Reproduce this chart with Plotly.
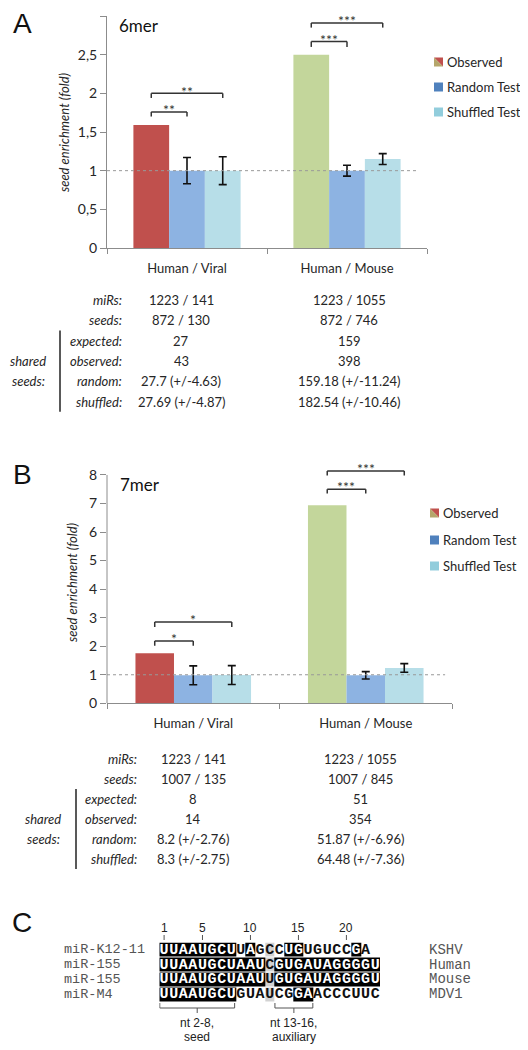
import plotly.graph_objects as go

# The page body keeps its default 8px margin, so the figure is 8px smaller
# and all pixel positions below are measured in window coordinates.
OFF = 8
W, H = 528 - OFF, 1050 - OFF


def px(x):
    return (x - OFF) / W


def py(y):
    return 1 - (y - OFF) / H


# ---------------- data ----------------
categories = ["Human / Viral", "Human / Mouse"]
series_names = ["Observed", "Random Test", "Shuffled Test"]

# Panel A (6mer)
a_observed = [1.59, 2.50]
a_random = [1.00, 1.00]
a_random_err = [0.17, 0.07]
a_shuffled = [1.00, 1.15]
a_shuffled_err = [0.18, 0.07]
a_yticks = [0, 0.5, 1, 1.5, 2, 2.5, 3]
a_yticktext = ["0", "0,5", "1", "1,5", "2", "2,5", "3"]
# significance: (group, target series, bracket top, bracket foot, label)
a_sig = [(0, 1, 1.76, 1.70, "**"), (0, 2, 2.00, 1.94, "**"),
         (1, 1, 2.67, 2.60, "***"), (1, 2, 2.91, 2.85, "***")]

# Panel B (7mer)
b_observed = [1.75, 6.94]
b_random = [0.98, 0.98]
b_random_err = [0.33, 0.13]
b_shuffled = [0.99, 1.24]
b_shuffled_err = [0.33, 0.15]
b_yticks = [0, 1, 2, 3, 4, 5, 6, 7, 8]
b_yticktext = ["0", "1", "2", "3", "4", "5", "6", "7", "8"]
b_sig = [(0, 1, 2.18, 2.02, "*"), (0, 2, 2.85, 2.67, "*"),
         (1, 1, 7.50, 7.35, "***"), (1, 2, 8.14, 7.98, "***")]

# Tables
row_labels = ["miRs:", "seeds:", "expected:", "observed:", "random:", "shuffled:"]
a_viral_table = ["1223 / 141", "872 / 130", "27", "43", "27.7 (+/-4.63)", "27.69 (+/-4.87)"]
a_mouse_table = ["1223 / 1055", "872 / 746", "159", "398", "159.18 (+/-11.24)", "182.54 (+/-10.46)"]
b_viral_table = ["1223 / 141", "1007 / 135", "8", "14", "8.2 (+/-2.76)", "8.3 (+/-2.75)"]
b_mouse_table = ["1223 / 1055", "1007 / 845", "51", "354", "51.87 (+/-6.96)", "64.48 (+/-7.36)"]

# Panel C alignment
mir_names = ["miR-K12-11", "miR-155", "miR-155", "miR-M4"]
species = ["KSHV", "Human", "Mouse", "MDV1"]
sequences = ["UUAAUGCUUAGCCUGUGUCCGA",
             "UUAAUGCUAAUCGUGAUAGGGGU",
             "UUAAUGCUAAUUGUGAUAGGGGU",
             "UUAAUGCUGUAUCGGAACCCUUC"]
# 1 = identical (black), 2 = position 12 (grey), 0 = different
shading = ["1111111101020110000010",
           "11111111111211111111111",
           "11111111111211111111111",
           "11111111000200110000000"]
position_ticks = [1, 5, 10, 15, 20]

# ---------------- styling ----------------
RED = "#C0504D"
GREEN = "#C3D69B"
BLUE = "#8DB3E2"
LBLUE = "#B7DEE8"
AXIS = "#8c8c8c"
TXT = "#262626"
FONT = "Lato"
BARGAP = 0.33
BW = (1 - BARGAP) / 3

fig = go.Figure()
shapes = []
annotations = []


def note(x, y, text, xref="paper", yref="paper", xanchor="center", yanchor="middle", **kw):
    annotations.append(dict(x=x, y=y, xref=xref, yref=yref, text=text, showarrow=False,
                            xanchor=xanchor, yanchor=yanchor, **kw))


def panel(obs, rnd, rnd_err, shf, shf_err, xa, ya):
    fig.add_trace(go.Bar(x=categories, y=obs, name=series_names[0], marker_color=[RED, GREEN],
                         marker_line_width=0, xaxis=xa, yaxis=ya, showlegend=False))
    fig.add_trace(go.Bar(x=categories, y=rnd, name=series_names[1], marker_color=BLUE,
                         marker_line_width=0, xaxis=xa, yaxis=ya, showlegend=False,
                         error_y=dict(type="data", array=rnd_err, color="#111", thickness=1.6, width=4)))
    fig.add_trace(go.Bar(x=categories, y=shf, name=series_names[2], marker_color=LBLUE,
                         marker_line_width=0, xaxis=xa, yaxis=ya, showlegend=False,
                         error_y=dict(type="data", array=shf_err, color="#111", thickness=1.6, width=4)))


panel(a_observed, a_random, a_random_err, a_shuffled, a_shuffled_err, "x", "y")
panel(b_observed, b_random, b_random_err, b_shuffled, b_shuffled_err, "x2", "y2")


def sig_brackets(sig, xr, yr, star_off):
    for g, k, top, foot, lab in sig:
        x0 = g - BW
        x1 = g + (k - 1) * BW
        for (ax0, ay0, ax1, ay1) in [(x0, foot, x0, top), (x0, top, x1, top), (x1, top, x1, foot)]:
            shapes.append(dict(type="line", xref=xr, yref=yr, x0=ax0, y0=ay0, x1=ax1, y1=ay1,
                               line=dict(color="#333", width=1.5)))
        note((x0 + x1) / 2, top + star_off, lab, xref=xr, yref=yr,
             font=dict(family=FONT, size=14, color="#333"))


sig_brackets(a_sig, "x", "y", 0.03)
sig_brackets(b_sig, "x2", "y2", 0.10)

# reference dotted lines at 1
shapes.append(dict(type="line", xref="x domain", yref="y", x0=0, x1=0.97, y0=1, y1=1,
                   line=dict(color="#999", width=1, dash="dot")))
shapes.append(dict(type="line", xref="x2 domain", yref="y2", x0=0, x1=0.98, y0=1, y1=1,
                   line=dict(color="#999", width=1, dash="dot")))
# y axis line of panel B (range extends above 8 for the brackets)
shapes.append(dict(type="line", xref="x2 domain", yref="y2", x0=0, x1=0, y0=0, y1=8,
                   line=dict(color=AXIS, width=1)))

# panel letters, titles, axis titles
for lab, x, y in [("A", 22, 24), ("B", 22, 474), ("C", 22, 922)]:
    note(px(x), py(y), lab, font=dict(family="Liberation Sans", size=28, color="#111"))
for lab, x, y in [("6mer", 117, 25), ("7mer", 118, 485)]:
    note(px(x), py(y), lab, xanchor="left", font=dict(family=FONT, size=17, color="#111"))
for x, y in [(64, 133), (72, 583)]:
    note(px(x), py(y), "<i>seed enrichment (fold)</i>", textangle=-90,
         font=dict(family=FONT, size=13, color=TXT))


# legends (drawn manually: observed symbol is split red / green)
def legend(x_sq, x_txt, ys):
    s = 9
    y0 = ys[0]
    shapes.append(dict(type="path", xref="paper", yref="paper",
                       path=f"M {px(x_sq)},{py(y0 - s/2)} L {px(x_sq + s)},{py(y0 - s/2)} L {px(x_sq + s)},{py(y0 + s/2)} Z",
                       fillcolor=RED, line=dict(width=0)))
    shapes.append(dict(type="path", xref="paper", yref="paper",
                       path=f"M {px(x_sq)},{py(y0 - s/2)} L {px(x_sq)},{py(y0 + s/2)} L {px(x_sq + s)},{py(y0 + s/2)} Z",
                       fillcolor="#B5A66B", line=dict(width=0)))
    for col, yy in [("#4F81BD", ys[1]), ("#92CDDC", ys[2])]:
        shapes.append(dict(type="rect", xref="paper", yref="paper", x0=px(x_sq), x1=px(x_sq + s),
                           y0=py(yy + s/2), y1=py(yy - s/2), fillcolor=col, line=dict(width=0)))
    for name, yy in zip(series_names, ys):
        note(px(x_txt), py(yy), name, xanchor="left", font=dict(family=FONT, size=13, color=TXT))


legend(434, 445, [62, 87, 112])
legend(430, 441, [513, 540, 566])


# tables
def table(vals_l, vals_r, lab_x, col_l, col_r, y0, dy, shared_x, bar_x):
    for i, lab in enumerate(row_labels):
        yy = y0 + i * dy
        note(px(lab_x), py(yy), f"<i>{lab}</i>", xanchor="right",
             font=dict(family=FONT, size=13, color=TXT))
        for v, cx in [(vals_l[i], col_l), (vals_r[i], col_r)]:
            note(px(cx), py(yy), v, font=dict(family=FONT, size=13, color=TXT))
    for t, k in [("shared", 3), ("seeds:", 4)]:
        note(px(shared_x), py(y0 + k * dy), f"<i>{t}</i>", font=dict(family=FONT, size=13, color=TXT))
    shapes.append(dict(type="line", xref="paper", yref="paper", x0=px(bar_x), x1=px(bar_x),
                       y0=py(y0 + 1.5 * dy), y1=py(y0 + 5.5 * dy), line=dict(color="#222", width=1.5)))


table(a_viral_table, a_mouse_table, 124, 181, 349, 300, 20.3, 28, 60)
table(b_viral_table, b_mouse_table, 139, 193, 360, 759, 20.0, 43, 76)

# ---------------- panel C ----------------
ncol = max(len(s) for s in sequences)
z = []
for sh in shading:
    row = [int(c) for c in sh] + [None] * (ncol - len(sh))
    z.append(row)
fig.add_trace(go.Heatmap(z=z, x=list(range(1, ncol + 1)), y=list(range(1, len(sequences) + 1)),
                         zmin=0, zmax=2, showscale=False, xgap=0, ygap=1, hoverinfo="skip",
                         colorscale=[[0, "#ffffff"], [0.25, "#ffffff"], [0.25, "#000000"],
                                     [0.75, "#000000"], [0.75, "#d2d2d2"], [1, "#d2d2d2"]],
                         xaxis="x3", yaxis="y3"))
lx, ly, lt, lc = [], [], [], []
for r, (seq, sh) in enumerate(zip(sequences, shading)):
    for c, (ch, s) in enumerate(zip(seq, sh)):
        lx.append(c + 1)
        ly.append(r + 1)
        lt.append(ch)
        lc.append("#ffffff" if s == "1" else "#111111")
fig.add_trace(go.Scatter(x=lx, y=ly, text=lt, mode="text", textposition="middle center",
                         textfont=dict(family="Liberation Mono", size=15, color=lc, weight="bold"),
                         xaxis="x3", yaxis="y3", showlegend=False, hoverinfo="skip"))

for p in position_ticks:
    note(p, py(928), str(p), xref="x3", font=dict(family="Liberation Sans", size=12, color="#222"))
    shapes.append(dict(type="line", xref="x3", yref="paper", x0=p, x1=p, y0=py(935), y1=py(940),
                       line=dict(color="#555", width=1)))

row_y = [949.8, 964.6, 979.4, 994.2]
for name, sp, yy in zip(mir_names, species, row_y):
    note(px(62), py(yy), name, xanchor="left", font=dict(family="Liberation Mono", size=13.5, color="#555"))
    note(px(427), py(yy), sp, xanchor="left", font=dict(family="Liberation Mono", size=14, color="#555"))

for c0, c1, l1, l2 in [(0.55, 8.35, "nt 2-8,", "seed"), (12.55, 16.5, "nt 13-16,", "auxiliary")]:
    mid = (c0 + c1) / 2
    for (ax0, ay0, ax1, ay1) in [(c0, 1003, c0, 1008), (c0, 1008, c1, 1008), (c1, 1008, c1, 1003),
                                 (mid, 1008, mid, 1013)]:
        shapes.append(dict(type="line", xref="x3", yref="paper", x0=ax0, x1=ax1, y0=py(ay0), y1=py(ay1),
                           line=dict(color="#555", width=1)))
    note(mid, py(1023), l1, xref="x3", font=dict(family="Liberation Sans", size=12, color="#222"))
    note(mid, py(1037), l2, xref="x3", font=dict(family="Liberation Sans", size=12, color="#222"))

# ---------------- layout ----------------
xcommon = dict(type="category", showline=True, linecolor=AXIS, linewidth=1, ticks="outside",
               tickson="boundaries", ticklen=5, tickcolor=AXIS, showgrid=False, zeroline=False,
               range=[-0.5, 1.5], tickfont=dict(family=FONT, size=13, color=TXT), ticklabelstandoff=8,
               automargin=False)
ycommon = dict(ticks="outside", ticklen=6, tickcolor=AXIS, showgrid=False, zeroline=False,
               tickfont=dict(family=FONT, size=14, color=TXT), automargin=False)

fig.update_layout(
    width=W, height=H, margin=dict(l=0, r=0, t=0, b=0, pad=0), autosize=False,
    paper_bgcolor="white", plot_bgcolor="white",
    barmode="group", bargap=BARGAP, bargroupgap=0, hovermode=False,
    font=dict(family=FONT, color=TXT),
    xaxis=dict(domain=[px(107), px(427)], anchor="y", **xcommon),
    yaxis=dict(domain=[py(248), py(16)], anchor="x", range=[0, 3], tickvals=a_yticks,
               ticktext=a_yticktext, showline=True, linecolor=AXIS, **ycommon),
    xaxis2=dict(domain=[px(107), px(452)], anchor="y2", **xcommon),
    yaxis2=dict(domain=[py(703.3), py(466.4)], anchor="x2", range=[0, 8.3], tickvals=b_yticks,
                ticktext=b_yticktext, showline=False, **ycommon),
    xaxis3=dict(domain=[px(159.3), px(380)], anchor="y3", range=[0.5, 23.5], visible=False),
    yaxis3=dict(domain=[py(1002), py(942.5)], anchor="x3", range=[4.5, 0.5], visible=False),
    shapes=shapes, annotations=annotations,
)

fig.write_html("out.html")
